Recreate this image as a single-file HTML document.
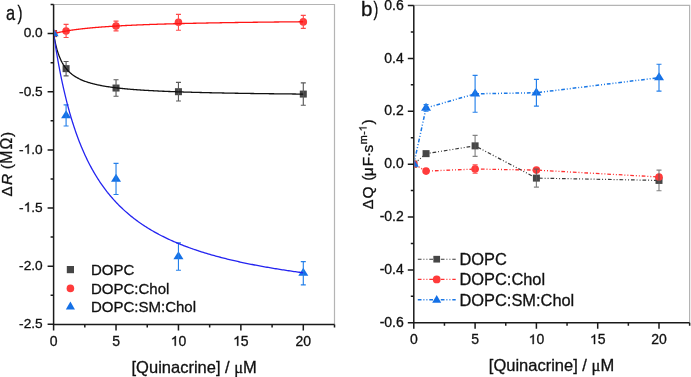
<!DOCTYPE html><html><head><meta charset="utf-8"><style>html,body{margin:0;padding:0;background:#fff;width:691px;height:377px;overflow:hidden}svg{display:block;will-change:transform}text{font-family:"Liberation Sans", sans-serif;fill:#111;stroke:#111;stroke-width:0.3px}</style></head><body>
<svg width="691" height="377" viewBox="0 0 691 377">
<defs>
<clipPath id="ca"><rect x="54.35" y="0" width="280.9" height="323.65"/></clipPath>
<clipPath id="cb"><rect x="414.55" y="0" width="275.8" height="322.05"/></clipPath>
</defs>
<path d="M53.6 4.5H334.5V324.4" fill="none" stroke="#b4b4b4" stroke-width="1.2"/>
<path d="M53.6 4.5V324.4H334.5" fill="none" stroke="#1a1a1a" stroke-width="1.5"/>
<path d="M47.6 33.6H53.6M47.6 91.75H53.6M47.6 149.9H53.6M47.6 208.05H53.6M47.6 266.2H53.6M47.6 324.35H53.6M50.6 4.53H53.6M50.6 62.67H53.6M50.6 120.82H53.6M50.6 178.97H53.6M50.6 237.12H53.6M50.6 295.28H53.6M53.6 324.4V330.4M116.03 324.4V330.4M178.45 324.4V330.4M240.87 324.4V330.4M303.3 324.4V330.4M84.81 324.4V327.4M147.24 324.4V327.4M209.66 324.4V327.4M272.09 324.4V327.4M334.51 324.4V327.4" fill="none" stroke="#1a1a1a" stroke-width="1.5"/>
<text x="23.66" y="37.4" font-size="13.7">0.0</text>
<text x="19.09" y="95.55" font-size="13.7">-0.5</text>
<text x="19.09" y="153.7" font-size="13.7">-</text><path transform="translate(23.66 153.7) scale(0.00669 -0.00669)" d="M763 0H583V1106Q518 1047 412 987Q306 927 222 897V1065Q373 1133 486 1231Q599 1328 646 1420H763Z" fill="#111" stroke="#111" stroke-width="44.8"/><text x="31.27" y="153.7" font-size="13.7">.0</text>
<text x="19.09" y="211.85" font-size="13.7">-</text><path transform="translate(23.66 211.85) scale(0.00669 -0.00669)" d="M763 0H583V1106Q518 1047 412 987Q306 927 222 897V1065Q373 1133 486 1231Q599 1328 646 1420H763Z" fill="#111" stroke="#111" stroke-width="44.8"/><text x="31.27" y="211.85" font-size="13.7">.5</text>
<text x="19.09" y="270" font-size="13.7">-2.0</text>
<text x="19.09" y="328.15" font-size="13.7">-2.5</text>
<text x="49.71" y="345.7" font-size="14">0</text>
<text x="112.13" y="345.7" font-size="14">5</text>
<path transform="translate(170.66 345.7) scale(0.00684 -0.00684)" d="M763 0H583V1106Q518 1047 412 987Q306 927 222 897V1065Q373 1133 486 1231Q599 1328 646 1420H763Z" fill="#111" stroke="#111" stroke-width="43.9"/><text x="178.45" y="345.7" font-size="14">0</text>
<path transform="translate(233.09 345.7) scale(0.00684 -0.00684)" d="M763 0H583V1106Q518 1047 412 987Q306 927 222 897V1065Q373 1133 486 1231Q599 1328 646 1420H763Z" fill="#111" stroke="#111" stroke-width="43.9"/><text x="240.87" y="345.7" font-size="14">5</text>
<text x="295.51" y="345.7" font-size="14">20</text>
<g clip-path="url(#ca)">
<rect x="50.1" y="30.1" width="7" height="7" fill="#464646"/>
<circle cx="53.6" cy="33.6" r="3.8" fill="#ff3b3b"/>
<rect x="62.59" y="65.15" width="7" height="7" fill="#464646"/>
<path d="M66.09 61.5V75.81M63.59 61.5H68.59M63.59 75.81H68.59" fill="none" stroke="#5a5a5a" stroke-width="1.15"/>
<rect x="112.53" y="84.53" width="7" height="7" fill="#464646"/>
<path d="M116.03 79.77V96.29M113.53 79.77H118.53M113.53 96.29H118.53" fill="none" stroke="#5a5a5a" stroke-width="1.15"/>
<rect x="174.95" y="88.2" width="7" height="7" fill="#464646"/>
<path d="M178.45 82.4V101.01M175.95 82.4H180.95M175.95 101.01H180.95" fill="none" stroke="#5a5a5a" stroke-width="1.15"/>
<rect x="299.8" y="90.58" width="7" height="7" fill="#464646"/>
<path d="M303.3 82.92V105.23M300.8 82.92H305.8M300.8 105.23H305.8" fill="none" stroke="#5a5a5a" stroke-width="1.15"/>
<circle cx="66.09" cy="30.95" r="3.8" fill="#ff3b3b"/>
<path d="M66.09 24.44V37.46M63.59 24.44H68.59M63.59 37.46H68.59" fill="none" stroke="#ff4a4a" stroke-width="1.15"/>
<circle cx="116.03" cy="26.04" r="3.8" fill="#ff3b3b"/>
<path d="M116.03 21.19V30.89M113.53 21.19H118.53M113.53 30.89H118.53" fill="none" stroke="#ff4a4a" stroke-width="1.15"/>
<circle cx="178.45" cy="22.32" r="3.8" fill="#ff3b3b"/>
<path d="M178.45 14.41V30.23M175.95 14.41H180.95M175.95 30.23H180.95" fill="none" stroke="#ff4a4a" stroke-width="1.15"/>
<circle cx="303.3" cy="21.9" r="3.8" fill="#ff3b3b"/>
<path d="M303.3 15.39V28.41M300.8 15.39H305.8M300.8 28.41H305.8" fill="none" stroke="#ff4a4a" stroke-width="1.15"/>
<path d="M66.09 110.14L71.09 118.14H61.09Z" fill="#1470e6"/>
<path d="M66.09 104.93V126.02M63.59 104.93H68.59M63.59 126.02H68.59" fill="none" stroke="#2580ea" stroke-width="1.15"/>
<path d="M116.03 173.64L121.03 181.64H111.03Z" fill="#1470e6"/>
<path d="M116.03 163.43V194.52M113.53 163.43H118.53M113.53 194.52H118.53" fill="none" stroke="#2580ea" stroke-width="1.15"/>
<path d="M178.45 251.21L183.45 259.21H173.45Z" fill="#1470e6"/>
<path d="M178.45 242.82V270.27M175.95 242.82H180.95M175.95 270.27H180.95" fill="none" stroke="#2580ea" stroke-width="1.15"/>
<path d="M303.3 267.84L308.3 275.84H298.3Z" fill="#1470e6"/>
<path d="M303.3 261.55V284.81M300.8 261.55H305.8M300.8 284.81H305.8" fill="none" stroke="#2580ea" stroke-width="1.15"/>
<path d="M53.6 33.6 L53.63 33.59 L53.68 33.58 L53.76 33.56 L53.85 33.54 L53.96 33.51 L54.08 33.48 L54.21 33.45 L54.36 33.41 L54.51 33.38 L54.68 33.33 L54.86 33.29 L55.05 33.25 L55.25 33.2 L55.45 33.15 L55.67 33.1 L55.89 33.05 L56.13 32.99 L56.37 32.94 L56.62 32.88 L56.88 32.82 L57.14 32.77 L57.42 32.7 L57.7 32.64 L57.99 32.58 L58.29 32.52 L58.59 32.45 L58.9 32.39 L59.22 32.32 L59.54 32.25 L59.87 32.18 L60.21 32.12 L60.55 32.05 L60.91 31.98 L61.26 31.91 L61.63 31.84 L62 31.77 L62.37 31.69 L62.76 31.62 L63.14 31.55 L63.54 31.48 L63.94 31.4 L64.35 31.33 L64.76 31.26 L65.18 31.19 L65.6 31.11 L66.03 31.04 L66.46 30.97 L66.9 30.89 L67.35 30.82 L67.8 30.74 L68.26 30.67 L68.72 30.6 L69.19 30.52 L69.66 30.45 L70.14 30.38 L70.63 30.3 L71.12 30.23 L71.61 30.16 L72.11 30.09 L72.61 30.01 L73.12 29.94 L73.64 29.87 L74.16 29.8 L74.68 29.73 L75.21 29.66 L75.75 29.58 L76.29 29.51 L76.83 29.44 L77.38 29.37 L77.93 29.3 L78.49 29.24 L79.05 29.17 L79.62 29.1 L80.19 29.03 L80.77 28.96 L81.35 28.89 L81.94 28.83 L82.53 28.76 L83.13 28.69 L83.73 28.63 L84.33 28.56 L84.94 28.5 L85.56 28.43 L86.17 28.37 L86.8 28.31 L87.42 28.24 L88.06 28.18 L88.69 28.12 L89.33 28.05 L89.98 27.99 L90.62 27.93 L91.28 27.87 L91.94 27.81 L92.6 27.75 L93.26 27.69 L93.93 27.63 L94.61 27.57 L95.29 27.51 L95.97 27.46 L96.66 27.4 L97.35 27.34 L98.04 27.28 L98.74 27.23 L99.44 27.17 L100.15 27.12 L100.86 27.06 L101.58 27.01 L102.3 26.95 L103.02 26.9 L103.75 26.85 L104.48 26.79 L105.21 26.74 L105.95 26.69 L106.7 26.64 L107.44 26.59 L108.2 26.54 L108.95 26.49 L109.71 26.44 L110.47 26.39 L111.24 26.34 L112.01 26.29 L112.78 26.24 L113.56 26.19 L114.34 26.15 L115.13 26.1 L115.92 26.05 L116.71 26.01 L117.51 25.96 L118.31 25.92 L119.11 25.87 L119.92 25.83 L120.73 25.78 L121.55 25.74 L122.37 25.69 L123.19 25.65 L124.02 25.61 L124.85 25.56 L125.68 25.52 L126.52 25.48 L127.36 25.44 L128.21 25.4 L129.05 25.36 L129.91 25.32 L130.76 25.28 L131.62 25.24 L132.48 25.2 L133.35 25.16 L134.22 25.12 L135.09 25.08 L135.97 25.04 L136.85 25 L137.73 24.97 L138.62 24.93 L139.51 24.89 L140.41 24.86 L141.3 24.82 L142.21 24.78 L143.11 24.75 L144.02 24.71 L144.93 24.68 L145.85 24.64 L146.76 24.61 L147.69 24.57 L148.61 24.54 L149.54 24.51 L150.47 24.47 L151.41 24.44 L152.35 24.41 L153.29 24.38 L154.23 24.34 L155.18 24.31 L156.13 24.28 L157.09 24.25 L158.05 24.22 L159.01 24.19 L159.98 24.16 L160.94 24.13 L161.92 24.1 L162.89 24.07 L163.87 24.04 L164.85 24.01 L165.84 23.98 L166.83 23.95 L167.82 23.92 L168.81 23.89 L169.81 23.86 L170.81 23.83 L171.82 23.81 L172.82 23.78 L173.83 23.75 L174.85 23.73 L175.87 23.7 L176.89 23.67 L177.91 23.65 L178.94 23.62 L179.97 23.59 L181 23.57 L182.04 23.54 L183.08 23.52 L184.12 23.49 L185.16 23.47 L186.21 23.44 L187.27 23.42 L188.32 23.39 L189.38 23.37 L190.44 23.34 L191.5 23.32 L192.57 23.3 L193.64 23.27 L194.72 23.25 L195.79 23.23 L196.87 23.2 L197.96 23.18 L199.04 23.16 L200.13 23.14 L201.22 23.11 L202.32 23.09 L203.41 23.07 L204.52 23.05 L205.62 23.03 L206.73 23.01 L207.84 22.98 L208.95 22.96 L210.07 22.94 L211.19 22.92 L212.31 22.9 L213.43 22.88 L214.56 22.86 L215.69 22.84 L216.83 22.82 L217.96 22.8 L219.1 22.78 L220.25 22.76 L221.39 22.74 L222.54 22.72 L223.69 22.7 L224.85 22.69 L226 22.67 L227.16 22.65 L228.33 22.63 L229.49 22.61 L230.66 22.59 L231.84 22.58 L233.01 22.56 L234.19 22.54 L235.37 22.52 L236.55 22.5 L237.74 22.49 L238.93 22.47 L240.12 22.45 L241.32 22.44 L242.51 22.42 L243.72 22.4 L244.92 22.39 L246.13 22.37 L247.34 22.35 L248.55 22.34 L249.76 22.32 L250.98 22.3 L252.2 22.29 L253.42 22.27 L254.65 22.26 L255.88 22.24 L257.11 22.23 L258.35 22.21 L259.58 22.2 L260.83 22.18 L262.07 22.16 L263.31 22.15 L264.56 22.14 L265.81 22.12 L267.07 22.11 L268.33 22.09 L269.59 22.08 L270.85 22.06 L272.11 22.05 L273.38 22.03 L274.65 22.02 L275.93 22.01 L277.2 21.99 L278.48 21.98 L279.76 21.96 L281.05 21.95 L282.34 21.94 L283.63 21.92 L284.92 21.91 L286.21 21.9 L287.51 21.89 L288.81 21.87 L290.12 21.86 L291.42 21.85 L292.73 21.83 L294.04 21.82 L295.36 21.81 L296.67 21.8 L297.99 21.78 L299.32 21.77 L300.64 21.76 L301.97 21.75 L303.3 21.73" fill="none" stroke="#ff1414" stroke-width="1.3"/>
<path d="M53.6 33.6 L53.63 33.77 L53.68 34.11 L53.76 34.57 L53.85 35.13 L53.96 35.76 L54.08 36.46 L54.21 37.22 L54.36 38.02 L54.51 38.86 L54.68 39.73 L54.86 40.62 L55.05 41.54 L55.25 42.47 L55.45 43.41 L55.67 44.36 L55.89 45.32 L56.13 46.27 L56.37 47.22 L56.62 48.17 L56.88 49.1 L57.14 50.03 L57.42 50.95 L57.7 51.86 L57.99 52.76 L58.29 53.64 L58.59 54.51 L58.9 55.36 L59.22 56.19 L59.54 57.01 L59.87 57.81 L60.21 58.6 L60.55 59.37 L60.91 60.12 L61.26 60.86 L61.63 61.58 L62 62.28 L62.37 62.96 L62.76 63.63 L63.14 64.29 L63.54 64.92 L63.94 65.54 L64.35 66.15 L64.76 66.74 L65.18 67.32 L65.6 67.88 L66.03 68.43 L66.46 68.96 L66.9 69.48 L67.35 69.99 L67.8 70.48 L68.26 70.97 L68.72 71.44 L69.19 71.89 L69.66 72.34 L70.14 72.78 L70.63 73.2 L71.12 73.61 L71.61 74.02 L72.11 74.41 L72.61 74.8 L73.12 75.17 L73.64 75.54 L74.16 75.89 L74.68 76.24 L75.21 76.58 L75.75 76.91 L76.29 77.23 L76.83 77.55 L77.38 77.86 L77.93 78.16 L78.49 78.45 L79.05 78.74 L79.62 79.02 L80.19 79.29 L80.77 79.56 L81.35 79.82 L81.94 80.08 L82.53 80.33 L83.13 80.57 L83.73 80.81 L84.33 81.04 L84.94 81.27 L85.56 81.49 L86.17 81.71 L86.8 81.92 L87.42 82.13 L88.06 82.34 L88.69 82.54 L89.33 82.73 L89.98 82.92 L90.62 83.11 L91.28 83.3 L91.94 83.47 L92.6 83.65 L93.26 83.82 L93.93 83.99 L94.61 84.16 L95.29 84.32 L95.97 84.48 L96.66 84.63 L97.35 84.79 L98.04 84.94 L98.74 85.08 L99.44 85.23 L100.15 85.37 L100.86 85.51 L101.58 85.64 L102.3 85.78 L103.02 85.91 L103.75 86.04 L104.48 86.16 L105.21 86.28 L105.95 86.41 L106.7 86.53 L107.44 86.64 L108.2 86.76 L108.95 86.87 L109.71 86.98 L110.47 87.09 L111.24 87.2 L112.01 87.3 L112.78 87.4 L113.56 87.51 L114.34 87.6 L115.13 87.7 L115.92 87.8 L116.71 87.89 L117.51 87.99 L118.31 88.08 L119.11 88.17 L119.92 88.26 L120.73 88.34 L121.55 88.43 L122.37 88.51 L123.19 88.6 L124.02 88.68 L124.85 88.76 L125.68 88.84 L126.52 88.91 L127.36 88.99 L128.21 89.07 L129.05 89.14 L129.91 89.21 L130.76 89.28 L131.62 89.35 L132.48 89.42 L133.35 89.49 L134.22 89.56 L135.09 89.63 L135.97 89.69 L136.85 89.76 L137.73 89.82 L138.62 89.88 L139.51 89.94 L140.41 90 L141.3 90.06 L142.21 90.12 L143.11 90.18 L144.02 90.24 L144.93 90.29 L145.85 90.35 L146.76 90.41 L147.69 90.46 L148.61 90.51 L149.54 90.57 L150.47 90.62 L151.41 90.67 L152.35 90.72 L153.29 90.77 L154.23 90.82 L155.18 90.87 L156.13 90.91 L157.09 90.96 L158.05 91.01 L159.01 91.05 L159.98 91.1 L160.94 91.14 L161.92 91.19 L162.89 91.23 L163.87 91.27 L164.85 91.32 L165.84 91.36 L166.83 91.4 L167.82 91.44 L168.81 91.48 L169.81 91.52 L170.81 91.56 L171.82 91.6 L172.82 91.64 L173.83 91.68 L174.85 91.71 L175.87 91.75 L176.89 91.79 L177.91 91.82 L178.94 91.86 L179.97 91.89 L181 91.93 L182.04 91.96 L183.08 92 L184.12 92.03 L185.16 92.06 L186.21 92.1 L187.27 92.13 L188.32 92.16 L189.38 92.19 L190.44 92.22 L191.5 92.25 L192.57 92.28 L193.64 92.31 L194.72 92.34 L195.79 92.37 L196.87 92.4 L197.96 92.43 L199.04 92.46 L200.13 92.49 L201.22 92.52 L202.32 92.54 L203.41 92.57 L204.52 92.6 L205.62 92.63 L206.73 92.65 L207.84 92.68 L208.95 92.7 L210.07 92.73 L211.19 92.75 L212.31 92.78 L213.43 92.8 L214.56 92.83 L215.69 92.85 L216.83 92.88 L217.96 92.9 L219.1 92.92 L220.25 92.95 L221.39 92.97 L222.54 92.99 L223.69 93.02 L224.85 93.04 L226 93.06 L227.16 93.08 L228.33 93.1 L229.49 93.13 L230.66 93.15 L231.84 93.17 L233.01 93.19 L234.19 93.21 L235.37 93.23 L236.55 93.25 L237.74 93.27 L238.93 93.29 L240.12 93.31 L241.32 93.33 L242.51 93.35 L243.72 93.37 L244.92 93.39 L246.13 93.4 L247.34 93.42 L248.55 93.44 L249.76 93.46 L250.98 93.48 L252.2 93.49 L253.42 93.51 L254.65 93.53 L255.88 93.55 L257.11 93.56 L258.35 93.58 L259.58 93.6 L260.83 93.61 L262.07 93.63 L263.31 93.65 L264.56 93.66 L265.81 93.68 L267.07 93.7 L268.33 93.71 L269.59 93.73 L270.85 93.74 L272.11 93.76 L273.38 93.77 L274.65 93.79 L275.93 93.8 L277.2 93.82 L278.48 93.83 L279.76 93.85 L281.05 93.86 L282.34 93.88 L283.63 93.89 L284.92 93.9 L286.21 93.92 L287.51 93.93 L288.81 93.95 L290.12 93.96 L291.42 93.97 L292.73 93.99 L294.04 94 L295.36 94.01 L296.67 94.03 L297.99 94.04 L299.32 94.05 L300.64 94.06 L301.97 94.08 L303.3 94.09" fill="none" stroke="#111" stroke-width="1.3"/>
<path d="M53.6 33.6 L53.63 33.79 L53.68 34.16 L53.76 34.68 L53.85 35.3 L53.96 36.03 L54.08 36.84 L54.21 37.74 L54.36 38.7 L54.51 39.74 L54.68 40.84 L54.86 41.99 L55.05 43.2 L55.25 44.46 L55.45 45.77 L55.67 47.12 L55.89 48.51 L56.13 49.94 L56.37 51.41 L56.62 52.91 L56.88 54.43 L57.14 55.99 L57.42 57.57 L57.7 59.17 L57.99 60.8 L58.29 62.44 L58.59 64.11 L58.9 65.79 L59.22 67.48 L59.54 69.19 L59.87 70.9 L60.21 72.63 L60.55 74.37 L60.91 76.11 L61.26 77.86 L61.63 79.61 L62 81.37 L62.37 83.13 L62.76 84.89 L63.14 86.65 L63.54 88.41 L63.94 90.17 L64.35 91.92 L64.76 93.68 L65.18 95.43 L65.6 97.17 L66.03 98.92 L66.46 100.65 L66.9 102.38 L67.35 104.1 L67.8 105.82 L68.26 107.52 L68.72 109.22 L69.19 110.91 L69.66 112.59 L70.14 114.26 L70.63 115.92 L71.12 117.57 L71.61 119.21 L72.11 120.84 L72.61 122.46 L73.12 124.06 L73.64 125.66 L74.16 127.24 L74.68 128.81 L75.21 130.37 L75.75 131.92 L76.29 133.45 L76.83 134.97 L77.38 136.48 L77.93 137.98 L78.49 139.46 L79.05 140.93 L79.62 142.39 L80.19 143.83 L80.77 145.27 L81.35 146.69 L81.94 148.09 L82.53 149.48 L83.13 150.86 L83.73 152.23 L84.33 153.58 L84.94 154.92 L85.56 156.25 L86.17 157.57 L86.8 158.87 L87.42 160.16 L88.06 161.43 L88.69 162.7 L89.33 163.95 L89.98 165.18 L90.62 166.41 L91.28 167.62 L91.94 168.82 L92.6 170.01 L93.26 171.19 L93.93 172.35 L94.61 173.51 L95.29 174.65 L95.97 175.77 L96.66 176.89 L97.35 178 L98.04 179.09 L98.74 180.17 L99.44 181.24 L100.15 182.3 L100.86 183.35 L101.58 184.39 L102.3 185.41 L103.02 186.43 L103.75 187.43 L104.48 188.43 L105.21 189.41 L105.95 190.38 L106.7 191.34 L107.44 192.3 L108.2 193.24 L108.95 194.17 L109.71 195.09 L110.47 196.01 L111.24 196.91 L112.01 197.8 L112.78 198.69 L113.56 199.56 L114.34 200.43 L115.13 201.28 L115.92 202.13 L116.71 202.97 L117.51 203.8 L118.31 204.62 L119.11 205.43 L119.92 206.23 L120.73 207.03 L121.55 207.81 L122.37 208.59 L123.19 209.36 L124.02 210.12 L124.85 210.88 L125.68 211.62 L126.52 212.36 L127.36 213.09 L128.21 213.81 L129.05 214.53 L129.91 215.24 L130.76 215.94 L131.62 216.63 L132.48 217.32 L133.35 218 L134.22 218.67 L135.09 219.33 L135.97 219.99 L136.85 220.64 L137.73 221.29 L138.62 221.93 L139.51 222.56 L140.41 223.18 L141.3 223.8 L142.21 224.42 L143.11 225.02 L144.02 225.62 L144.93 226.22 L145.85 226.81 L146.76 227.39 L147.69 227.97 L148.61 228.54 L149.54 229.1 L150.47 229.66 L151.41 230.22 L152.35 230.76 L153.29 231.31 L154.23 231.84 L155.18 232.38 L156.13 232.9 L157.09 233.43 L158.05 233.94 L159.01 234.46 L159.98 234.96 L160.94 235.46 L161.92 235.96 L162.89 236.45 L163.87 236.94 L164.85 237.42 L165.84 237.9 L166.83 238.38 L167.82 238.84 L168.81 239.31 L169.81 239.77 L170.81 240.23 L171.82 240.68 L172.82 241.12 L173.83 241.57 L174.85 242.01 L175.87 242.44 L176.89 242.87 L177.91 243.3 L178.94 243.72 L179.97 244.14 L181 244.56 L182.04 244.97 L183.08 245.37 L184.12 245.78 L185.16 246.18 L186.21 246.57 L187.27 246.97 L188.32 247.35 L189.38 247.74 L190.44 248.12 L191.5 248.5 L192.57 248.88 L193.64 249.25 L194.72 249.62 L195.79 249.98 L196.87 250.34 L197.96 250.7 L199.04 251.06 L200.13 251.41 L201.22 251.76 L202.32 252.1 L203.41 252.45 L204.52 252.79 L205.62 253.13 L206.73 253.46 L207.84 253.79 L208.95 254.12 L210.07 254.44 L211.19 254.77 L212.31 255.09 L213.43 255.4 L214.56 255.72 L215.69 256.03 L216.83 256.34 L217.96 256.65 L219.1 256.95 L220.25 257.25 L221.39 257.55 L222.54 257.85 L223.69 258.14 L224.85 258.43 L226 258.72 L227.16 259.01 L228.33 259.29 L229.49 259.57 L230.66 259.85 L231.84 260.13 L233.01 260.4 L234.19 260.68 L235.37 260.95 L236.55 261.22 L237.74 261.48 L238.93 261.74 L240.12 262.01 L241.32 262.27 L242.51 262.52 L243.72 262.78 L244.92 263.03 L246.13 263.28 L247.34 263.53 L248.55 263.78 L249.76 264.03 L250.98 264.27 L252.2 264.51 L253.42 264.75 L254.65 264.99 L255.88 265.22 L257.11 265.46 L258.35 265.69 L259.58 265.92 L260.83 266.15 L262.07 266.38 L263.31 266.6 L264.56 266.82 L265.81 267.05 L267.07 267.26 L268.33 267.48 L269.59 267.7 L270.85 267.91 L272.11 268.13 L273.38 268.34 L274.65 268.55 L275.93 268.76 L277.2 268.96 L278.48 269.17 L279.76 269.37 L281.05 269.58 L282.34 269.78 L283.63 269.98 L284.92 270.17 L286.21 270.37 L287.51 270.56 L288.81 270.76 L290.12 270.95 L291.42 271.14 L292.73 271.33 L294.04 271.52 L295.36 271.7 L296.67 271.89 L297.99 272.07 L299.32 272.26 L300.64 272.44 L301.97 272.62 L303.3 272.8" fill="none" stroke="#2424f0" stroke-width="1.3"/>
<path d="M53.6 28.27L58.6 36.27H48.6Z" fill="#1470e6"/>
</g>
<rect x="66.8" y="266" width="7.2" height="7.2" fill="#464646"/>
<circle cx="70.4" cy="288.4" r="3.8" fill="#ff3b3b"/>
<path d="M70.4 301.6L74.95 309.4H65.85Z" fill="#1470e6"/>
<text x="91" y="275" font-size="15">DOPC</text>
<text x="91" y="293.8" font-size="15">DOPC:Chol</text>
<text x="91" y="312.2" font-size="15">DOPC:SM:Chol</text>
<text x="194.2" y="373" font-size="16.5" text-anchor="middle">[Quinacrine] / <tspan font-family="Liberation Serif">&#956;</tspan>M</text>
<text transform="translate(12.4 191.5) rotate(-90)" font-size="15.2" text-anchor="middle">&#916;</text>
<text transform="translate(12.4 179.5) rotate(-90)" font-size="15.5" text-anchor="middle" font-style="italic">R</text>
<text transform="translate(12.4 166.7) rotate(-90)" font-size="15.5" text-anchor="middle">(</text>
<text transform="translate(12.4 157.15) rotate(-90)" font-size="15.8" text-anchor="middle">M</text>
<text transform="translate(12.4 143.7) rotate(-90)" font-size="15.8" text-anchor="middle">&#937;</text>
<text transform="translate(12.4 134.35) rotate(-90)" font-size="15.5" text-anchor="middle">)</text>
<text transform="translate(6 20.2) scale(0.82 1)" font-size="20">a</text>
<text transform="translate(17.4 20.2) scale(0.75 1)" font-size="20">)</text>
<path d="M413.8 5.4H689.6V322.8" fill="none" stroke="#b4b4b4" stroke-width="1.2"/>
<path d="M413.8 5.4V322.8H689.6" fill="none" stroke="#1a1a1a" stroke-width="1.5"/>
<path d="M407.8 5.51H413.8M407.8 58.39H413.8M407.8 111.27H413.8M407.8 164.15H413.8M407.8 217.03H413.8M407.8 269.91H413.8M407.8 322.79H413.8M410.8 31.95H413.8M410.8 84.83H413.8M410.8 137.71H413.8M410.8 190.59H413.8M410.8 243.47H413.8M410.8 296.35H413.8M413.8 322.8V328.8M475.1 322.8V328.8M536.4 322.8V328.8M597.7 322.8V328.8M659 322.8V328.8M444.45 322.8V325.8M505.75 322.8V325.8M567.05 322.8V325.8M628.35 322.8V325.8M689.65 322.8V325.8" fill="none" stroke="#1a1a1a" stroke-width="1.5"/>
<text x="384.34" y="9.71" font-size="14">0.6</text>
<text x="384.34" y="62.59" font-size="14">0.4</text>
<text x="384.34" y="115.47" font-size="14">0.2</text>
<text x="384.34" y="168.35" font-size="14">0.0</text>
<text x="379.68" y="221.23" font-size="14">-0.2</text>
<text x="379.68" y="274.11" font-size="14">-0.4</text>
<text x="379.68" y="326.99" font-size="14">-0.6</text>
<text x="409.91" y="344.1" font-size="14">0</text>
<text x="471.21" y="344.1" font-size="14">5</text>
<path transform="translate(528.61 344.1) scale(0.00684 -0.00684)" d="M763 0H583V1106Q518 1047 412 987Q306 927 222 897V1065Q373 1133 486 1231Q599 1328 646 1420H763Z" fill="#111" stroke="#111" stroke-width="43.9"/><text x="536.4" y="344.1" font-size="14">0</text>
<path transform="translate(589.91 344.1) scale(0.00684 -0.00684)" d="M763 0H583V1106Q518 1047 412 987Q306 927 222 897V1065Q373 1133 486 1231Q599 1328 646 1420H763Z" fill="#111" stroke="#111" stroke-width="43.9"/><text x="597.7" y="344.1" font-size="14">5</text>
<text x="651.21" y="344.1" font-size="14">20</text>
<g clip-path="url(#cb)">
<path d="M413.8 164.15 L426.06 153.65 L475.1 145.85 L536.4 178.11 L659 180.41" fill="none" stroke="#3a3a3a" stroke-width="1.2" stroke-dasharray="3.7 1.9 1 2 1 1.9" stroke-dashoffset="0.34"/>
<path d="M413.8 164.15 L426.06 171.1 L475.1 169.04 L536.4 170.1 L659 176.97" fill="none" stroke="#ff3030" stroke-width="1.3" stroke-dasharray="3.7 1.9 1 2 1 1.9" stroke-dashoffset="0.02"/>
<path d="M413.8 164.15 L426.06 107.97 L475.1 93.82 L536.4 92.76 L659 77.69" fill="none" stroke="#1a78e6" stroke-width="1.5" stroke-dasharray="3.7 1.9 1 2 1 1.9" stroke-dashoffset="0.65"/>
<rect x="410.3" y="160.65" width="7" height="7" fill="#464646"/>
<rect x="422.56" y="150.15" width="7" height="7" fill="#464646"/>
<rect x="471.6" y="142.35" width="7" height="7" fill="#464646"/>
<rect x="532.9" y="174.61" width="7" height="7" fill="#464646"/>
<rect x="655.5" y="176.91" width="7" height="7" fill="#464646"/>
<circle cx="413.8" cy="164.15" r="3.8" fill="#ff3b3b"/>
<circle cx="426.06" cy="171.1" r="3.8" fill="#ff3b3b"/>
<circle cx="475.1" cy="169.04" r="3.8" fill="#ff3b3b"/>
<circle cx="536.4" cy="170.1" r="3.8" fill="#ff3b3b"/>
<circle cx="659" cy="176.97" r="3.8" fill="#ff3b3b"/>
<path d="M413.8 158.82L418.8 166.82H408.8Z" fill="#1470e6"/>
<path d="M426.06 102.63L431.06 110.63H421.06Z" fill="#1470e6"/>
<path d="M475.1 88.49L480.1 96.49H470.1Z" fill="#1470e6"/>
<path d="M536.4 87.43L541.4 95.43H531.4Z" fill="#1470e6"/>
<path d="M659 72.36L664 80.36H654Z" fill="#1470e6"/>
<path d="M475.1 164.81V173.27M472.6 164.81H477.6M472.6 173.27H477.6" fill="none" stroke="#ff4a4a" stroke-width="1.15"/>
<path d="M475.1 135.3V156.4M472.6 135.3H477.6M472.6 156.4H477.6" fill="none" stroke="#5a5a5a" stroke-width="1.15" stroke-opacity="0.75"/>
<path d="M536.4 169.12V187.1M533.9 169.12H538.9M533.9 187.1H538.9" fill="none" stroke="#5a5a5a" stroke-width="1.15" stroke-opacity="0.75"/>
<path d="M659 170.1V190.72M656.5 170.1H661.5M656.5 190.72H661.5" fill="none" stroke="#5a5a5a" stroke-width="1.15" stroke-opacity="0.75"/>
<path d="M426.06 104.66V111.27M423.56 104.66H428.56M423.56 111.27H428.56" fill="none" stroke="#2580ea" stroke-width="1.15"/>
<path d="M475.1 75.42V112.22M472.6 75.42H477.6M472.6 112.22H477.6" fill="none" stroke="#2580ea" stroke-width="1.15"/>
<path d="M536.4 79.36V106.17M533.9 79.36H538.9M533.9 106.17H538.9" fill="none" stroke="#2580ea" stroke-width="1.15"/>
<path d="M659 64.29V91.1M656.5 64.29H661.5M656.5 91.1H661.5" fill="none" stroke="#2580ea" stroke-width="1.15"/>
</g>
<path d="M417.8 259.2H455.7" stroke="#3a3a3a" stroke-width="1.1" stroke-dasharray="3.7 1.9 1 2 1 1.9"/>
<rect x="433.35" y="255.85" width="6.7" height="6.7" fill="#464646"/>
<path d="M417.8 279.4H455.7" stroke="#ff3030" stroke-width="1.3" stroke-dasharray="3.7 1.9 1 2 1 1.9"/>
<circle cx="436.7" cy="279.4" r="3.9" fill="#ff3b3b"/>
<path d="M417.8 299.8H455.7" stroke="#1a78e6" stroke-width="1.5" stroke-dasharray="3.7 1.9 1 2 1 1.9"/>
<path d="M436.7 295L441.2 302.8H432.2Z" fill="#1470e6"/>
<text x="459.5" y="264.8" font-size="16.4">DOPC</text>
<text x="459.5" y="285.2" font-size="16.4">DOPC:Chol</text>
<text x="459.5" y="305.5" font-size="16.4">DOPC:SM:Chol</text>
<text x="551.5" y="371.3" font-size="16.5" text-anchor="middle">[Quinacrine] / <tspan font-family="Liberation Serif">&#956;</tspan>M</text>
<text transform="translate(373.4 204.35) rotate(-90)" font-size="14.6" text-anchor="middle">&#916;</text>
<text transform="translate(373.4 192.5) rotate(-90)" font-size="15.5" text-anchor="middle">Q</text>
<text transform="translate(373.4 178.2) rotate(-90)" font-size="15.5" text-anchor="middle">(</text>
<text transform="translate(373.4 171.8) rotate(-90)" font-size="15.5" text-anchor="middle" font-family="Liberation Serif">&#956;</text>
<text transform="translate(373.4 161.5) rotate(-90)" font-size="15.5" text-anchor="middle">F</text>
<text transform="translate(373.4 154.4) rotate(-90)" font-size="15.5" text-anchor="middle">&#183;</text>
<text transform="translate(373.4 148.65) rotate(-90)" font-size="15.5" text-anchor="middle">s</text>
<text transform="translate(373.4 139.7) rotate(-90)" font-size="10.8" text-anchor="middle" dy="-6.9">m</text>
<text transform="translate(373.4 132.85) rotate(-90)" font-size="10.8" text-anchor="middle" dy="-6.9">-</text>
<path transform="translate(373.4 128.4) rotate(-90) translate(-3 -6.9) scale(0.00527 -0.00527)" d="M763 0H583V1106Q518 1047 412 987Q306 927 222 897V1065Q373 1133 486 1231Q599 1328 646 1420H763Z" fill="#111" stroke="#111" stroke-width="56.9"/>
<text transform="translate(373.4 121.85) rotate(-90)" font-size="15.5" text-anchor="middle">)</text>
<text x="361" y="16.4" font-size="20.5">b</text>
<text transform="translate(373.5 16.1) scale(0.7 1)" font-size="20.5">)</text>
</svg></body></html>
